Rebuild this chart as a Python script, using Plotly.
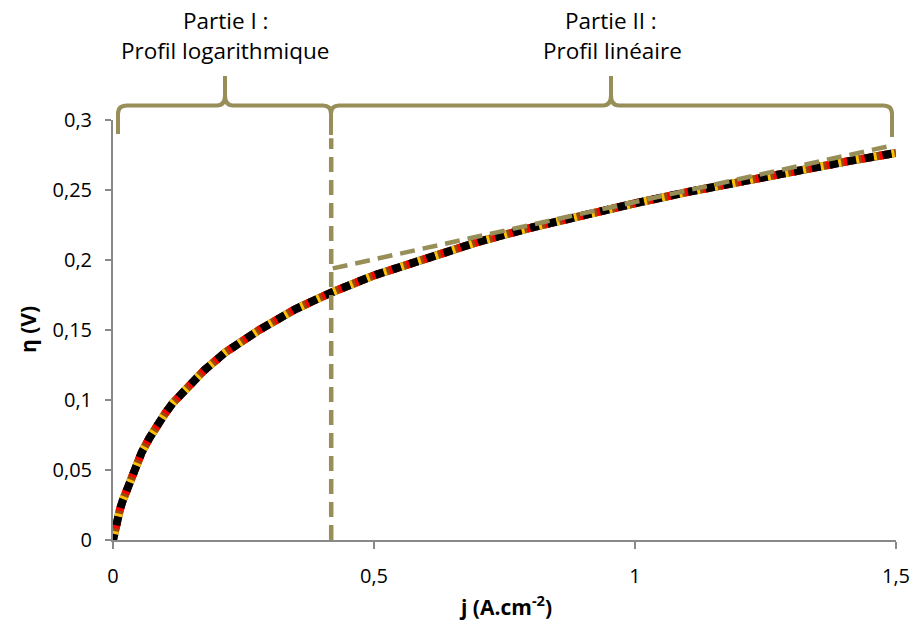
import plotly.graph_objects as go

# ---- data ----
j_curve = [0, 0.004, 0.008, 0.0134, 0.0185, 0.025, 0.033, 0.044, 0.055, 0.07,
           0.084, 0.1, 0.114, 0.144, 0.174, 0.215, 0.28, 0.35, 0.42, 0.5,
           0.6, 0.7, 0.8, 0.9, 1.0, 1.1, 1.2, 1.3, 1.4, 1.5]
eta_curve = [0, 0.008, 0.015, 0.022, 0.028, 0.034, 0.045, 0.054, 0.0626, 0.073,
             0.082, 0.0905, 0.0976, 0.110, 0.121, 0.134, 0.150, 0.165, 0.177, 0.189,
             0.201, 0.213, 0.223, 0.232, 0.2405, 0.2485, 0.256, 0.263, 0.270, 0.2765]

series_names = ["Série 1", "Série 2", "Série 3", "Série 4", "Série 5", "Série 6"]
series_colors = ["#93CDDD", "#604A7B", "#FFC000", "#984807", "#FF0000", "#000000"]
series_dash = ["9px,9px", "0px,3px,9px,6px", "0px,6px,9px,3px",
               "0px,9px,9px,0px", "3px,9px,6px,0px", "6px,9px,3px,0px"]

split_j = [0.418, 0.418]
split_eta = [0, 0.287]
linear_j = [0.421, 1.49]
linear_eta = [0.194, 0.2816]

x_ticks = [0, 0.5, 1, 1.5]
y_ticks = [0, 0.05, 0.1, 0.15, 0.2, 0.25, 0.3]

OLIVE = "#978E58"
AXIS = "#898989"
FONT = "Open Sans"

fig = go.Figure()
for name, col, dash in zip(series_names, series_colors, series_dash):
    fig.add_trace(go.Scatter(x=j_curve, y=eta_curve, mode="lines", name=name,
                             line=dict(color=col, width=8, dash=dash),
                             hoverinfo="skip"))

fig.add_trace(go.Scatter(x=split_j, y=split_eta, mode="lines",
                         line=dict(color=OLIVE, width=4.5, dash="15px,8px"),
                         hoverinfo="skip", cliponaxis=False))
fig.add_trace(go.Scatter(x=linear_j, y=linear_eta, mode="lines",
                         line=dict(color=OLIVE, width=4.5, dash="15px,8px"),
                         hoverinfo="skip"))

# ---- layout geometry (pixels) ----
L, R, T, B = 113, 18, 120, 85
W, H = 914, 625
pw, ph = W - L - R, H - T - B


def px(xp):
    return (xp - L) / pw


def py(yp):
    return (H - B - yp) / ph


def P(xp, yp):
    return f"{px(xp):.5f},{py(yp):.5f}"


yh = 105.5
brace1 = (f"M {P(118,134)} L {P(118,114)} Q {P(118,yh)} {P(127,yh)} "
          f"L {P(217,yh)} Q {P(225,yh)} {P(225,95)} L {P(225,76)} "
          f"M {P(225,76)} L {P(225,95)} Q {P(225,yh)} {P(233,yh)} "
          f"L {P(323,yh)} Q {P(331,yh)} {P(331,114)} L {P(331,135)}")
brace2 = (f"M {P(331,135)} L {P(331,114)} Q {P(331,yh)} {P(339,yh)} "
          f"L {P(603,yh)} Q {P(611,yh)} {P(611,95)} L {P(611,76)} "
          f"M {P(611,76)} L {P(611,95)} Q {P(611,yh)} {P(619,yh)} "
          f"L {P(883,yh)} Q {P(892,yh)} {P(892,114)} L {P(892,137)}")

shapes = [dict(type="path", path=p, xref="paper", yref="paper",
               line=dict(color=OLIVE, width=4)) for p in (brace1, brace2)]

ann_font = dict(family=FONT, size=22.5, color="#000000")
annotations = [
    dict(text="Partie I :", x=px(225), y=py(21), xref="paper", yref="paper",
         showarrow=False, font=ann_font, xanchor="center", yanchor="middle"),
    dict(text="Profil logarithmique", x=px(225), y=py(51), xref="paper", yref="paper",
         showarrow=False, font=ann_font, xanchor="center", yanchor="middle"),
    dict(text="Partie II :", x=px(611), y=py(21), xref="paper", yref="paper",
         showarrow=False, font=ann_font, xanchor="center", yanchor="middle"),
    dict(text="Profil linéaire", x=px(612), y=py(51), xref="paper", yref="paper",
         showarrow=False, font=ann_font, xanchor="center", yanchor="middle"),
    dict(text="<b>η (V)</b>", x=px(28), y=0.5, xref="paper", yref="paper",
         showarrow=False, textangle=-90, font=dict(family=FONT, size=21, color="#000000"),
         xanchor="center", yanchor="middle"),
    dict(text="<b>j (A.cm<sup>-2</sup>)</b>", x=px(505), y=py(605), xref="paper", yref="paper",
         showarrow=False, font=dict(family=FONT, size=21, color="#000000"),
         xanchor="center", yanchor="middle"),
]

fig.update_layout(
    width=W, height=H,
    margin=dict(l=L, r=R, t=T, b=B, pad=0, autoexpand=False),
    paper_bgcolor="white", plot_bgcolor="white",
    showlegend=False,
    separators=", ",
    font=dict(family=FONT, size=20, color="#000000"),
    shapes=shapes,
    annotations=annotations,
    xaxis=dict(range=[0, 1.5], tickvals=x_ticks, showgrid=False, zeroline=False,
               automargin=False,
               showline=True, linecolor=AXIS, linewidth=2,
               ticks="outside", ticklen=7, tickcolor=AXIS, tickwidth=1.5,
               ticklabelstandoff=10,
               tickfont=dict(family=FONT, size=20, color="#000000")),
    yaxis=dict(range=[0, 0.3], tickvals=y_ticks, showgrid=False, zeroline=False,
               automargin=False,
               showline=True, linecolor=AXIS, linewidth=2,
               ticks="outside", ticklen=6, tickcolor=AXIS, tickwidth=1.5,
               ticklabelstandoff=9,
               tickfont=dict(family=FONT, size=20, color="#000000")),
)

fig.write_html("out.html", config={"displayModeBar": False},
               post_script="document.body.style.margin='0px';"
                           "document.body.style.overflow='hidden';")
